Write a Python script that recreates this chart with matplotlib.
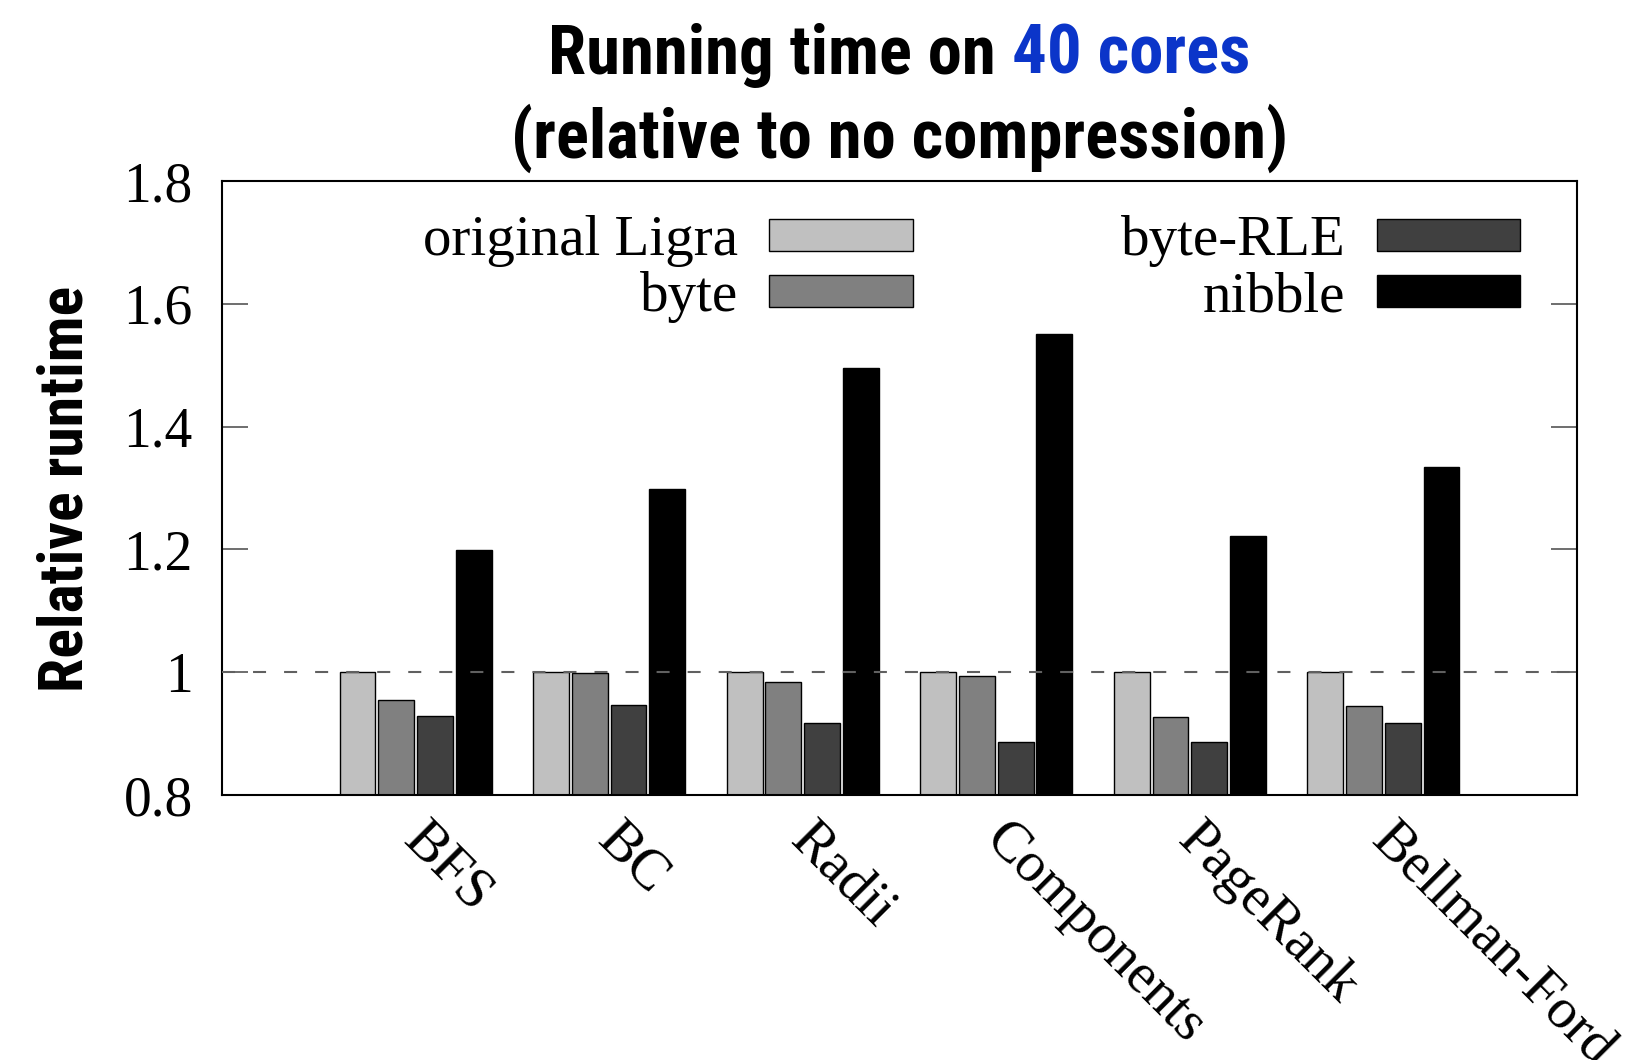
import matplotlib
matplotlib.use("Agg")
import matplotlib.pyplot as plt
from matplotlib import font_manager
from matplotlib.transforms import ScaledTranslation
import numpy as np

# data
benchmarks = ["BFS", "BC", "Radii", "Components", "PageRank", "Bellman-Ford"]
series_names = ["original Ligra", "byte", "byte-RLE", "nibble"]
original_ligra = [1.0, 1.0, 1.0, 1.0, 1.0, 1.0]
byte = [0.955, 0.998, 0.984, 0.993, 0.927, 0.945]
byte_rle = [0.928, 0.946, 0.918, 0.887, 0.887, 0.918]
nibble = [1.199, 1.299, 1.495, 1.551, 1.222, 1.335]
series_colors = ["#c0c0c0", "#808080", "#404040", "#000000"]
y_ticks = [0.8, 1.0, 1.2, 1.4, 1.6, 1.8]
y_tick_labels = ["0.8", "1", "1.2", "1.4", "1.6", "1.8"]

TITLE_BLUE = "#0b35c9"

available = {f.name for f in font_manager.fontManager.ttflist}
narrow_font = "DejaVu Sans"
for cand in ["Roboto Condensed", "Liberation Sans Narrow", "Open Sans Condensed"]:
    if cand in available:
        narrow_font = cand
        break
serif_font = "Liberation Serif"

plt.rcParams["font.family"] = [serif_font, "DejaVu Serif"]

W, H = 1652, 1060
fig = plt.figure(figsize=(W / 100, H / 100), dpi=100)
ax = fig.add_axes([222 / W, 1 - 795 / H, (1577 - 222) / W, (795 - 181) / H])

x = np.arange(len(benchmarks))
bar_w = 0.185
offsets = [-0.3, -0.1, 0.1, 0.3]
all_series = [original_ligra, byte, byte_rle, nibble]
for vals, off, col, name in zip(all_series, offsets, series_colors, series_names):
    ax.bar(x + off, np.array(vals) - 0.8, bar_w, bottom=0.8, color=col,
           edgecolor="black", linewidth=1.0, label=name, zorder=2)

ax.axhline(1.0, color="#606060", linewidth=1.5, dashes=(6.25, 8.65), zorder=3)

ax.set_xlim(-1, 6)
ax.set_ylim(0.8, 1.8)
ax.set_yticks(y_ticks, y_tick_labels)
ax.tick_params(axis="y", direction="in", length=19, width=1.2, color="#555555",
               right=True, labelsize=40, pad=21)
ax.set_xticks(x, benchmarks, rotation=-45, ha="left", va="top",
              rotation_mode="default")
ax.tick_params(axis="x", length=0, labelsize=41, pad=13)
shift = ScaledTranslation(-22 / 100, 0, fig.dpi_scale_trans)
for lbl in ax.get_xticklabels():
    lbl.set_transform(lbl.get_transform() + shift)
for sp in ax.spines.values():
    sp.set_linewidth(1.5)

leg = ax.legend(ncol=2, loc="upper right", bbox_to_anchor=(0.958, 0.944),
                frameon=False, markerfirst=False, fontsize=41,
                handlelength=2.52, handleheight=0.5, handletextpad=0.55,
                columnspacing=3.65, labelspacing=0.07, borderpad=0,
                borderaxespad=0)

# y label
fig.text(66 / W, 1 - 489 / H, "Relative runtime", rotation=90, ha="center",
         va="center", fontsize=44.5, fontweight="bold", family=narrow_font)

# two-coloured title
cx = (222 + 1577) / 2
y1 = 1 - 74 / H
y2 = 1 - 158 / H
title_kw = dict(fontsize=49.5, fontweight="bold", family=narrow_font, va="baseline")
fig.canvas.draw()
renderer = fig.canvas.get_renderer()
probe = fig.text(0, y1, "Running time on 40 cores", **title_kw)
full_w = probe.get_window_extent(renderer).width
probe.remove()
left = cx - full_w / 2
fig.text(left / W, y1, "Running time on", ha="left", **title_kw)
fig.text((left + full_w) / W, y1, "40 cores", ha="right", color=TITLE_BLUE, **title_kw)
fig.text(cx / W, y2, "(relative to no compression)", ha="center", **title_kw)

fig.savefig("out.png", dpi=100)
